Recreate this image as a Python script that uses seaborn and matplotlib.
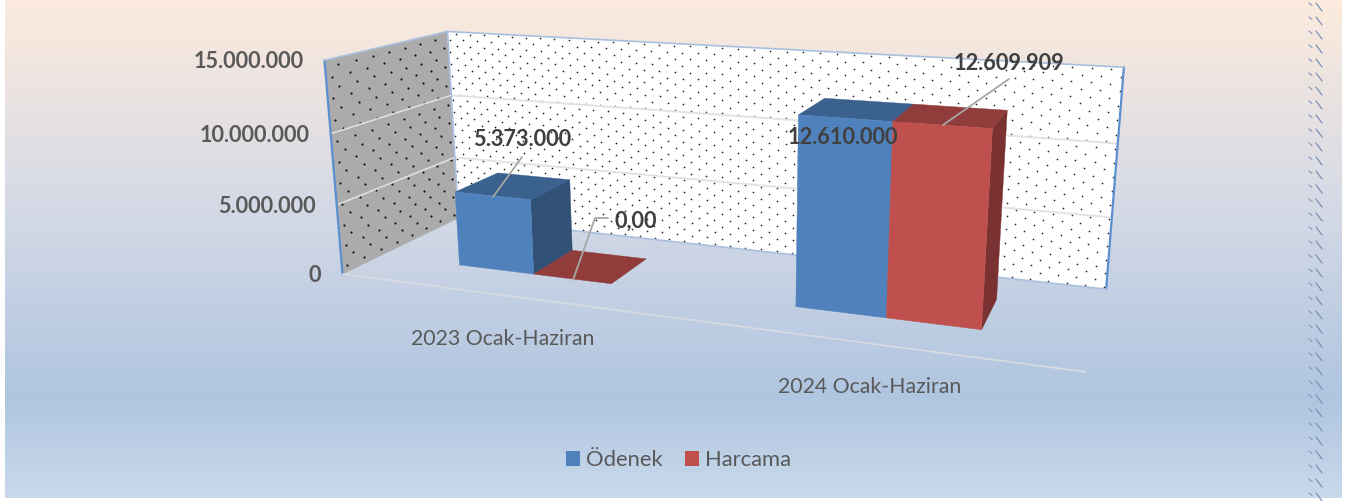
import numpy as np
import pandas as pd
import seaborn as sns
import matplotlib.pyplot as plt
from matplotlib.colors import LinearSegmentedColormap, to_rgb
from matplotlib.patches import Polygon, Patch

# --- Data ---
periods = ['2023 Ocak-Haziran', '2024 Ocak-Haziran']
odenek = [5373000, 12610000]
harcama = [0, 12609909]
odenek_labels = ['5.373.000', '12.610.000']
harcama_labels = ['0,00', '12.609.909']
y_ticks = [0, 5000000, 10000000, 15000000]
y_tick_labels = ['0', '5.000.000', '10.000.000', '15.000.000']

BLUE = '#4F81BD'
RED = '#C0504D'
GREY_TEXT = '#595959'
DARK_TEXT = '#404040'

sns.set_theme(style='white')
plt.rcParams['font.family'] = ['Lato', 'DejaVu Sans']

df = pd.DataFrame({
    'period': periods * 2,
    'series': ['Ödenek'] * 2 + ['Harcama'] * 2,
    'value': odenek + harcama,
})

fig = plt.figure(figsize=(13.56, 5.01), dpi=100, facecolor='white')

# seaborn works out bar positions and heights on a hidden axes
bar_ax = fig.add_axes([0, 0, 1, 1])
sns.barplot(data=df, x='period', y='value', hue='series', palette=[BLUE, RED],
            width=0.476, gap=0, saturation=1, legend=False, ax=bar_ax)
bar_ax.set_xlim(-0.5, 1.5)
bar_ax.set_ylim(0, y_ticks[-1])
bars = list(bar_ax.patches)
bar_ax.set_visible(False)

# pixel canvas
ax = fig.add_axes([0, 0, 1, 1])
ax.set_xlim(0, 1356)
ax.set_ylim(501, 0)
ax.axis('off')

# --- Background gradient ---
grad = LinearSegmentedColormap.from_list('bg', [
    (0.0, '#FCEBDD'), (0.4, '#D6DAE6'), (0.8, '#AFC5E0'), (1.0, '#C9D9EB')])
ax.imshow(np.linspace(0, 1, 256).reshape(-1, 1), cmap=grad, aspect='auto',
          extent=(5, 1342, 498, 0), zorder=0)
ax.set_xlim(0, 1356)
ax.set_ylim(501, 0)

# --- Camera fitted on the chart box corners: (u, v, w) -> pixels ---
corners = [
    ((0, 0, 0), (342, 275)), ((0, 1, 0), (325, 60)),
    ((0, 0, 1), (459, 217)), ((0, 1, 1), (447, 32)),
    ((1, 0, 1), (1106, 290)), ((1, 1, 1), (1124, 67)),
    ((1, 0, 0), (1085, 371)),
]
rows = []
for (u, v, w), (px, py) in corners:
    px, py = px / 1000, py / 1000
    rows.append([u, v, w, 1, 0, 0, 0, 0, -px * u, -px * v, -px * w, -px])
    rows.append([0, 0, 0, 0, u, v, w, 1, -py * u, -py * v, -py * w, -py])
cam = np.linalg.svd(np.array(rows))[2][-1].reshape(3, 4)


def project(u, v, w):
    p = cam @ np.array([u, v, w, 1.0])
    return p[:2] / p[2] * 1000


def face(pts, color, z):
    ax.add_patch(Polygon([project(*p) for p in pts], closed=True, facecolor=color,
                         edgecolor=color, linewidth=0.3, zorder=z))


def edge(a, b, color, lw=1.5, z=2):
    pa, pb = project(*a), project(*b)
    ax.plot([pa[0], pb[0]], [pa[1], pb[1]], color=color, lw=lw, zorder=z,
            solid_capstyle='round')


# --- Walls ---
face([(0, 0, 0), (0, 1, 0), (0, 1, 1), (0, 0, 1)], '#ABABAB', 1)
face([(0, 0, 1), (0, 1, 1), (1, 1, 1), (1, 0, 1)], '#FFFFFF', 1)

# dot pattern of the walls
back_u, back_v = np.meshgrid(np.linspace(0.003, 0.997, 42), np.linspace(0.01, 0.99, 32))
back_u = back_u + (np.arange(32)[:, None] % 2) * 0.012
back_pts = np.array([project(a, b, 1) for a, b in zip(back_u.ravel(), back_v.ravel()) if a < 0.998])
ax.scatter(back_pts[:, 0], back_pts[:, 1], s=1.5, color='#222222', linewidths=0, zorder=2)
side_w, side_v = np.meshgrid(np.linspace(0.04, 0.96, 8), np.linspace(0.03, 0.97, 20))
side_w = side_w + (np.arange(20)[:, None] % 2) * 0.05
side_pts = np.array([project(0, b, a) for a, b in zip(side_w.ravel(), side_v.ravel()) if a < 0.99])
ax.scatter(side_pts[:, 0], side_pts[:, 1], s=2.5, color='#111111', linewidths=0, zorder=2)

# gridlines
for tick in y_ticks[1:-1]:
    v = tick / y_ticks[-1]
    edge((0, v, 0), (0, v, 1), '#DEDEDE', 1.2, 3)
    edge((0, v, 1), (1, v, 1), '#E2E2E2', 1.4, 3)

# wall borders
edge((0, 0, 0), (0, 1, 0), '#5B8FD0', 1.6, 4)
edge((1, 0, 1), (1, 1, 1), '#5B8FD0', 1.6, 4)
edge((0, 1, 0), (0, 1, 1), '#A9C0DE', 1.2, 4)
edge((0, 1, 1), (1, 1, 1), '#A9C0DE', 1.2, 4)
edge((0, 0, 1), (0, 1, 1), '#A9C0DE', 1.2, 4)
edge((0, 0, 1), (1, 0, 1), '#A9C0DE', 1.2, 4)
edge((0, 0, 0), (1, 0, 0), '#D8DCE2', 1.2, 4)


# --- Bars ---
def shade(color, k):
    return tuple(c * k for c in to_rgb(color))


DEPTH_FRONT, DEPTH_BACK = 0.305, 0.695
z = 5
for bar in bars:
    u0 = (bar.get_x() + 0.5) / 2
    u1 = (bar.get_x() + bar.get_width() + 0.5) / 2
    v = bar.get_height() / y_ticks[-1]
    col = bar.get_facecolor()[:3]
    if v > 0:
        face([(u1, 0, DEPTH_FRONT), (u1, 0, DEPTH_BACK), (u1, v, DEPTH_BACK), (u1, v, DEPTH_FRONT)],
             shade(col, 0.63), z)
    face([(u0, v, DEPTH_FRONT), (u0, v, DEPTH_BACK), (u1, v, DEPTH_BACK), (u1, v, DEPTH_FRONT)],
         shade(col, 0.75), z)
    if v > 0:
        face([(u0, 0, DEPTH_FRONT), (u1, 0, DEPTH_FRONT), (u1, v, DEPTH_FRONT), (u0, v, DEPTH_FRONT)],
             col, z)
    z += 1

# --- Axis text ---
for tick, lab in zip(y_ticks, y_tick_labels):
    px, py = project(0, tick / y_ticks[-1], 0)
    ax.text(px - 21, py + 1.5, lab, ha='right', va='center', fontsize=15.6, fontweight='bold',
            color=GREY_TEXT, zorder=20)

ax.text(502.5, 339, periods[0], ha='center', va='center', fontsize=15.3, color=GREY_TEXT, zorder=20)
ax.text(870, 387, periods[1], ha='center', va='center', fontsize=15.3, color=GREY_TEXT, zorder=20)

# --- Data labels and leaders ---
label_pos = [(522, 140), (843, 137), (636, 221), (1009, 63)]
for lab, (lx, ly) in zip(odenek_labels + harcama_labels, label_pos):
    ax.text(lx, ly, lab, ha='center', va='center', fontsize=15.7, fontweight='bold',
            color=DARK_TEXT, zorder=20)

leaders = [
    ([522, 493], [157, 197]),
    ([608, 595, 573], [218, 218, 280]),
    ([1009, 943], [79, 125]),
]
for xs, ys in leaders:
    ax.plot(xs, ys, color='#A6A6A6', lw=1.3, zorder=19)

# --- Stitched right edge ---
for sy in np.arange(3, 501, 14):
    ax.plot([1309, 1312], [sy, sy + 2.5], color='#8C9DBB', lw=0.9, zorder=3)
    ax.plot([1316, 1322], [sy, sy + 8], color='#7B90B5', lw=0.9, zorder=3)

# --- Legend ---
handles = [Patch(facecolor=BLUE, edgecolor='none', label='Ödenek'),
           Patch(facecolor=RED, edgecolor='none', label='Harcama')]
ax.legend(handles=handles, loc='center', bbox_to_anchor=(678.5 / 1356, 1 - 460 / 501), ncol=2,
          frameon=False, fontsize=15.8, labelcolor=GREY_TEXT, handlelength=0.64, handleheight=0.64,
          handletextpad=0.3, columnspacing=1.0, borderpad=0)

fig.savefig('out.png', dpi=100)
